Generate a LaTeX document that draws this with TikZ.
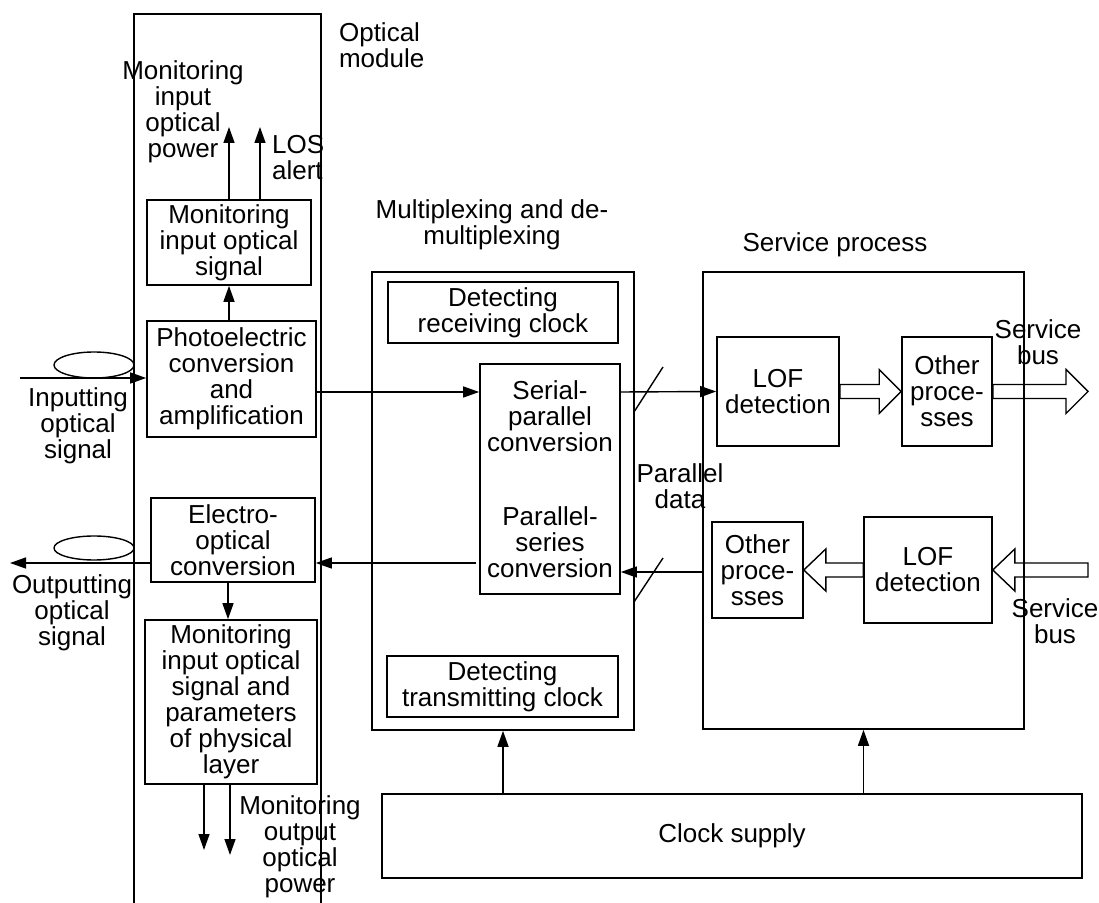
\documentclass[tikz,border=0pt]{standalone}
\usepackage{fontspec}
\setmainfont{Liberation Sans}
\usetikzlibrary{arrows.meta,calc,shapes.geometric}
\newcommand{\busR}[2]{% wide bus arrow, pointing right
  \draw[bus] ($(#1)+(0,-7)$) -- ($(#2)+(-22,-7)$) -- ($(#2)+(-22,-22)$) -- (#2)
    -- ($(#2)+(-22,22)$) -- ($(#2)+(-22,7)$) -- ($(#1)+(0,7)$) -- cycle;}
\newcommand{\busL}[2]{% wide bus arrow, pointing left
  \draw[bus] ($(#1)+(0,-7)$) -- ($(#2)+(22,-7)$) -- ($(#2)+(22,-21)$) -- (#2)
    -- ($(#2)+(22,21)$) -- ($(#2)+(22,7)$) -- ($(#1)+(0,7)$) -- cycle;}
\begin{document}
\begin{tikzpicture}[x=0.5pt, y=-0.5pt,
  every node/.style={font=\fontsize{13}{13}\selectfont, align=center},
  box/.style={draw, line width=0.8pt, inner sep=0pt},
  wh/.style 2 args={minimum width=#1*0.5pt, minimum height=#2*0.5pt},
  arr/.style={line width=0.7pt, -{Triangle[length=8pt,width=5.5pt]}},
  bus/.style={line width=0.7pt}]
\useasboundingbox (0,0) rectangle (1099,903);
% optical module, open at the bottom
\draw[line width=0.8pt] (134,903) -- (134,14) -- (321,14) -- (321,903);
\node[anchor=west, align=left] (optLbl) at (332,45) {Optical\\module};
\node[box, wh={164}{85}] (monIn) at (229,242.5) {Monitoring\\input optical\\signal};
\node[box, wh={169}{116}] (photo) at (231.5,379) {Photoelectric\\conversion\\and\\amplification};
\node[box, wh={164}{84}] (electro) at (233,540) {Electro-\\optical\\conversion};
\node[box, wh={172}{164}] (monPhy) at (231,702) {Monitoring\\input optical\\signal and\\parameters\\of physical\\layer};
\node[ellipse, draw, line width=0.7pt, wh={80}{26}, inner sep=0pt] (fibIn) at (94,365) {};
\node[ellipse, draw, line width=0.7pt, wh={80}{24}, inner sep=0pt] (fibOut) at (94,548) {};
\node (inLbl) at (78,426) {Inputting\\optical\\signal};
\node (outLbl) at (72,613) {Outputting\\optical\\signal};
\node (pwrLbl) at (183,112) {Monitoring\\input\\optical\\power};
\node[anchor=west, align=left] (losLbl) at (265,158) {LOS\\alert};
\node (outPwrLbl) at (300,847) {Monitoring\\output\\optical\\power};
% multiplexing
\node[box, wh={262}{458}] (mux) at (503,501) {};
\node (muxLbl) at (492,225) {Multiplexing and de-\\multiplexing};
\node[box, wh={230}{61}] (rxClk) at (503,312.5) {Detecting\\receiving clock};
\node[box, wh={231}{61}] (txClk) at (502.5,686.5) {Detecting\\transmitting clock};
\node[box, wh={140}{230}] (serPar) at (550,479) {};
\node (spTxt) at (550,416) {Serial-\\parallel\\conversion};
\node (psTxt) at (550,542) {Parallel-\\series\\conversion};
\node (parLbl) at (680,486) {Parallel\\data};
% service process
\node[box, wh={321}{457}] (svc) at (863.5,500.5) {};
\node (svcLbl) at (835,245) {Service process};
\node[box, wh={122}{109}] (lofA) at (778,391.5) {LOF\\detection};
\node[box, wh={90}{109}] (othA) at (947,391.5) {Other\\proce-\\sses};
\node[box, wh={128}{106}] (lofB) at (928,570) {LOF\\detection};
\node[box, wh={91}{96}] (othB) at (757.5,570) {Other\\proce-\\sses};
\node (busLblA) at (1038,342) {Service\\bus};
\node (busLblB) at (1055,621) {Service\\bus};
\node[box, wh={700}{84}] (clk) at (732,836) {Clock supply};
\coordinate (inStart) at (20,378);
\coordinate (outEnd) at (10,563);
\coordinate (pwrOut) at (229,127);
\coordinate (losOut) at (260,127);
\coordinate (phyOutA) at (204,850);
\coordinate (phyOutB) at (230,855);
\coordinate (rx) at (0,392);
\coordinate (tx1) at (0,572);
\coordinate (tx2) at (0,563);
\coordinate (busOut) at (1088,391.5);
\coordinate (busIn) at (1088,570);
% connectors
\draw[arr] (inStart) -- (photo.west |- inStart);
\draw[arr] (photo.north -| monIn.south) -- (monIn.south);
\draw[arr] (monIn.north) -- (pwrOut);
\draw[arr] (monIn.north -| losOut) -- (losOut);
\draw[arr] (photo.east |- rx) -- (serPar.west |- rx);
\draw[arr] (serPar.east |- rx) -- (lofA.west);
\draw[arr] (svc.west |- tx1) -- (serPar.east |- tx1);
\draw[arr] ($(serPar.west |- tx2)+(-3,0)$) -- (electro.east |- tx2);
\draw[arr] (electro.west |- tx2) -- (outEnd);
\draw[arr] (electro.south -| 228,0) -- (monPhy.north -| 228,0);
\draw[arr] (monPhy.south -| phyOutA) -- (phyOutA);
\draw[arr] (monPhy.south -| phyOutB) -- (phyOutB);
\draw[arr] (clk.north -| mux.south) -- (mux.south);
\draw[arr] (clk.north -| svc.south) -- (svc.south);
% parallel data marks
\draw[line width=0.7pt] (634,412) -- (663,367);
\draw[line width=0.7pt] (634,602) -- (663,558);
% service buses
\busR{lofA.east}{othA.west}
\busR{othA.east}{busOut}
\busL{lofB.west}{othB.east}
\busL{busIn}{lofB.east}
\end{tikzpicture}
\end{document}
